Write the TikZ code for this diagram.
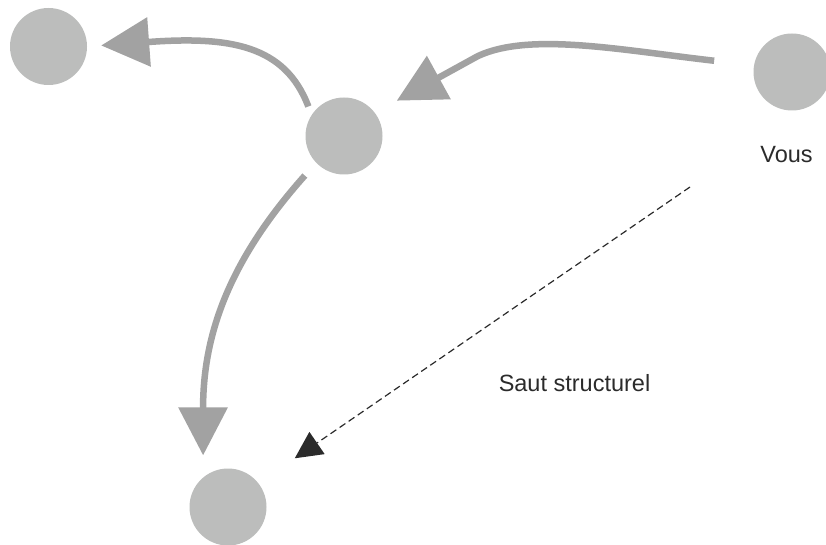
\documentclass[tikz,border=0pt]{standalone}
\usepackage{fontspec}
\setmainfont{Liberation Sans}
\usetikzlibrary{arrows.meta}
\definecolor{dotgray}{HTML}{BCBDBC}
\definecolor{arrgray}{HTML}{A2A2A2}
\definecolor{darkink}{HTML}{2B2B2B}
\tikzset{
  dot/.style={circle, fill=dotgray, draw=none, minimum size=77pt, inner sep=0pt},
  grayarrow/.style={draw=arrgray, line width=6.5pt,
    -{Triangle[width=48pt,length=48pt,fill=arrgray]}},
  jumparrow/.style={draw=darkink, line width=1.2pt, dash pattern=on 7pt off 4pt,
    -{Triangle[width=27pt,length=27pt,fill=darkink,line width=0pt]}},
  lbl/.style={text=darkink, font=\fontsize{23.5}{28}\selectfont, anchor=base, inner sep=0pt}
}
\begin{document}
\begin{tikzpicture}[x=1pt,y=-1pt]
\useasboundingbox (0,0) rectangle (826,545);
\node[dot] (tl)  at (48.5,46.5) {};
\node[dot] (mid) at (344,136) {};
\node[dot] (you) at (792,72) {};
\node[dot] (bot) at (228,507) {};
\node[lbl] (vous) at (786.5,163) {Vous};
\node[lbl] (saut) at (574.5,391.5) {Saut structurel};
\coordinate (jumpstart) at (690,187);
\draw[grayarrow, shorten <=40pt, shorten >=25pt]
  (you.170) .. controls (620,50) and (530,32) .. (478,56) -- (mid.37);
\draw[grayarrow, shorten <=9pt, shorten >=14pt]
  (mid.147) .. controls (285,45) and (230,36) .. (tl.0);
\draw[grayarrow, shorten <=17pt, shorten >=22pt]
  (mid.224) .. controls (225,265) and (203,340) .. (bot.130.5);
\draw[jumparrow, shorten >=44pt] (jumpstart) -- (bot.38);
\end{tikzpicture}
\end{document}
